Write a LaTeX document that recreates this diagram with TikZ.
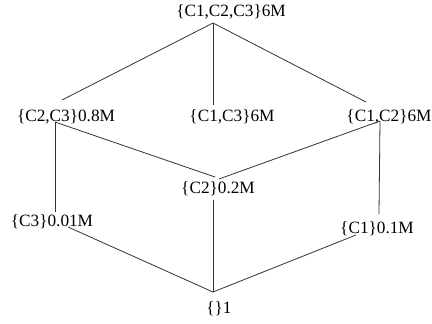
\documentclass[tikz,border=0pt]{standalone}
\usepackage{fontspec}
\setmainfont{Liberation Serif}
\begin{document}
\begin{tikzpicture}[x=1bp,y=-1bp,
  lbl/.style={inner sep=0pt,anchor=center,font=\fontsize{17.3}{20}\selectfont},
  edge/.style={draw=black!80,line width=0.8bp}]
\useasboundingbox (0,0) rectangle (432,324);
% labels
\node[lbl] (ltop) at (231,12) {\{C1,C2,C3\}6M};
\node[lbl] (lc23) at (66,117) {\{C2,C3\}0.8M};
\node[lbl] (lc13) at (232,117) {\{C1,C3\}6M};
\node[lbl] (lc12) at (389,117) {\{C1,C2\}6M};
\node[lbl] (lc2)  at (218,189) {\{C2\}0.2M};
\node[lbl] (lc3)  at (52,222) {\{C3\}0.01M};
\node[lbl] (lc1)  at (377,229) {\{C1\}0.1M};
\node[lbl] (lbot) at (219,309) {\{\}1};
% junction points
\coordinate (top)    at (213,23);
\coordinate (c23in)  at (62,100);
\coordinate (c23out) at (55,122);
\coordinate (c13in)  at (213,105);
\coordinate (c12in)  at (366,102);
\coordinate (c12out) at (380,121);
\coordinate (c2inl)  at (215,177);
\coordinate (c2inr)  at (219,179);
\coordinate (c2out)  at (213,200);
\coordinate (c3in)   at (55,212);
\coordinate (c3out)  at (68,227);
\coordinate (c1in)   at (379,214);
\coordinate (c1out)  at (356,235);
\coordinate (botin)  at (213,292);
% connectors
\draw[edge] (top) -- (c23in);
\draw[edge] (top) -- (c13in);
\draw[edge] (top) -- (c12in);
\draw[edge] (c23out) -- (c2inl);
\draw[edge] (c12out) -- (c2inr);
\draw[edge] (c23out) -- (c3in);
\draw[edge] (c12out) -- (c1in);
\draw[edge] (c2out) -- (botin);
\draw[edge] (c3out) -- (botin);
\draw[edge] (c1out) -- (botin);
\end{tikzpicture}
\end{document}
